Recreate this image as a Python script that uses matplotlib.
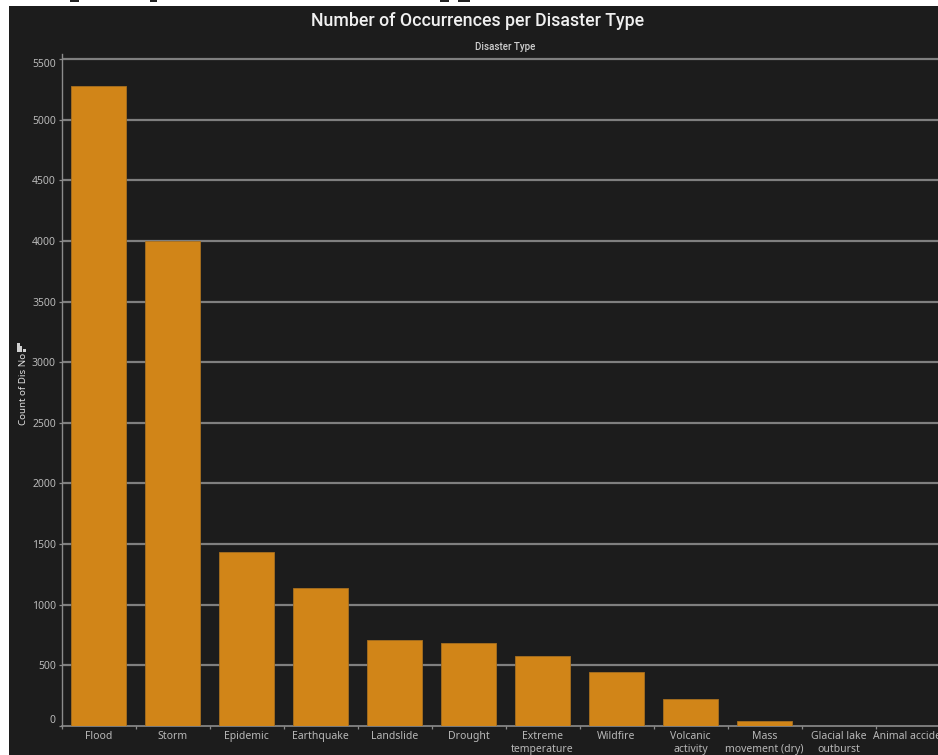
import matplotlib
matplotlib.use('Agg')
import matplotlib.pyplot as plt
from matplotlib.patches import Rectangle

disaster_types = ['Flood', 'Storm', 'Epidemic', 'Earthquake', 'Landslide', 'Drought',
                  'Extreme\ntemperature', 'Wildfire', 'Volcanic\nactivity',
                  'Mass\nmovement (dry)', 'Glacial lake\noutburst', 'Animal accident']
counts = [5277, 3998, 1434, 1138, 710, 686, 581, 449, 222, 39, 3, 1]
y_ticks = [0, 500, 1000, 1500, 2000, 2500, 3000, 3500, 4000, 4500, 5000, 5500]

W, H = 938, 755
BG = '#1c1c1c'
BAR = '#d18518'
GRID = '#7f7f7f'
AXIS = '#8c8c8c'
TXT = '#b8b8b8'

plt.rcParams['font.family'] = ['Noto Sans', 'DejaVu Sans']

fig = plt.figure(figsize=(W / 100, H / 100), dpi=100, facecolor='white')

# dark panel, white strip on top and left
panel = fig.add_axes([9 / W, 0, (W - 9) / W, (H - 6) / H], zorder=-1)
panel.set_facecolor(BG)
panel.set_xticks([])
panel.set_yticks([])
for s in panel.spines.values():
    s.set_visible(False)

# plot area in pixels: left 61.5, bottom 726, top 54, runs off the right edge
left, right, top, bottom = 61.5, 938, 54, 726
ax = fig.add_axes([left / W, 1 - bottom / H, (right - left) / W, (bottom - top) / H], zorder=1)
ax.set_facecolor('none')
ax.set_xlim(-0.5, -0.5 + (right - left) / 74)
ax.set_ylim(0, (bottom - top) / 0.12127)

xs = list(range(len(counts)))
ax.bar(xs, counts, width=0.75, color=BAR, edgecolor='#a8701f', linewidth=0.6, zorder=3)

ax.set_yticks(y_ticks)
ax.set_yticklabels([str(v) for v in y_ticks], fontsize=7.5, color=TXT)
ax.set_xticks([i - 0.5 for i in xs])
ax.set_xticklabels([])
ax.tick_params(axis='y', length=2.5, width=0.9, color=AXIS, pad=1.5)
ax.tick_params(axis='x', length=2, width=0.9, color=AXIS)
for v in y_ticks[1:]:
    ax.axhline(v, color=GRID, linewidth=1.6, zorder=1)

# end labels sit inside the axis range in the original
labels = ax.get_yticklabels()
labels[0].set_verticalalignment('bottom')
labels[-1].set_verticalalignment('top')

# one text per line so the baselines stay level
for i, name in zip(xs, disaster_types):
    for n, line in enumerate(name.split('\n')):
        ax.text(i, -(13 + n * 12.7) / (bottom - top), line, transform=ax.get_xaxis_transform(),
                ha='center', va='baseline', fontsize=7.5, color=TXT, clip_on=False)

for side in ['top', 'right']:
    ax.spines[side].set_visible(False)
ax.spines['left'].set_color(AXIS)
ax.spines['bottom'].set_color(AXIS)
ax.spines['left'].set_linewidth(1)
ax.spines['bottom'].set_linewidth(1.2)

fig.text(478 / W, 1 - 21 / H, 'Number of Occurrences per Disaster Type', ha='center', va='center',
         family='Roboto', fontsize=12.8, fontweight='medium', color='#f0f0f0')
fig.text(505 / W, 1 - 47.5 / H, 'Disaster Type', ha='center', va='center',
         family='Roboto', fontsize=7, fontweight='medium', color='#d0d0d0')
fig.text(23 / W, 1 - 389 / H, 'Count of Dis No', ha='center', va='center', rotation=90,
         fontsize=7, color='#e0e0e0')

# little sort icon next to the axis title
for x0, y0, w, h in [(17, 343, 2.5, 9), (20, 346, 2.2, 6), (23, 349, 3, 3)]:
    fig.add_artist(Rectangle((x0 / W, 1 - (y0 + h) / H), w / W, h / H, transform=fig.transFigure,
                             facecolor='#cfcfcf', edgecolor='none', zorder=5))

# bits of cut off black text along the top edge
for x0, x1 in [(70, 79), (150, 157), (440, 449), (458, 470)]:
    fig.add_artist(Rectangle((x0 / W, 1 - 1.5 / H), (x1 - x0) / W, 1.5 / H, transform=fig.transFigure,
                             facecolor='#222222', edgecolor='none', zorder=5))

fig.savefig('out.png', dpi=100, facecolor='white')
